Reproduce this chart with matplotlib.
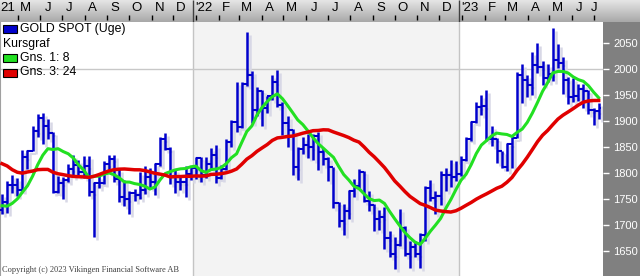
#!/usr/bin/env python3
"""Weekly gold spot bar chart with 8 and 24 week moving averages."""

import numpy as np
import matplotlib
matplotlib.use("Agg")
from matplotlib import pyplot as plt
from matplotlib import transforms
from matplotlib.colors import LinearSegmentedColormap
from matplotlib.patches import Rectangle

# weekly bars, first week ends 2021-04-09, last 2023-07-07
first_week = "2021-04-09"

opens = [
    1728, 1744, 1777, 1777, 1768, 1831, 1843, 1881, 1905, 1891,
    1877, 1764, 1781, 1787, 1808, 1815, 1802, 1814, 1763, 1780,
    1781, 1818, 1827, 1788, 1754, 1750, 1761, 1757, 1767, 1793,
    1783, 1818, 1865, 1846, 1792, 1783, 1783, 1798, 1809, 1829,
    1797, 1818, 1835, 1791, 1807, 1859, 1898, 1889, 1970, 1988,
    1921, 1958, 1925, 1947, 1975, 1931, 1896, 1883, 1811, 1846,
    1853, 1850, 1871, 1840, 1827, 1811, 1742, 1708, 1727, 1766,
    1775, 1802, 1747, 1738, 1712, 1716, 1675, 1644, 1661, 1695,
    1644, 1657, 1644, 1681, 1771, 1751, 1755, 1797, 1797, 1793,
    1798, 1824, 1865, 1898, 1926, 1928, 1865, 1865, 1842, 1811,
    1856, 1868, 1989, 1978, 1969, 2008, 2004, 1983, 1990, 2017,
    2011, 1978, 1946, 1948, 1961, 1958, 1921, 1919,
]
highs = [
    1759, 1785, 1797, 1790, 1845, 1845, 1890, 1913, 1916, 1903,
    1879, 1795, 1792, 1818, 1834, 1825, 1833, 1832, 1782, 1795,
    1823, 1834, 1834, 1808, 1787, 1765, 1770, 1801, 1814, 1810,
    1819, 1869, 1877, 1849, 1808, 1793, 1814, 1814, 1831, 1831,
    1830, 1848, 1853, 1815, 1865, 1902, 1974, 1974, 2070, 1996,
    1966, 1960, 1948, 1988, 1998, 1936, 1910, 1884, 1849, 1870,
    1874, 1875, 1879, 1847, 1830, 1812, 1745, 1740, 1767, 1788,
    1807, 1804, 1765, 1740, 1729, 1735, 1688, 1676, 1730, 1698,
    1669, 1670, 1684, 1774, 1787, 1765, 1804, 1810, 1824, 1823,
    1833, 1869, 1900, 1937, 1949, 1960, 1890, 1868, 1843, 1858,
    1870, 1993, 2009, 1988, 2032, 2049, 2015, 2009, 2079, 2048,
    2022, 1985, 1983, 1971, 1970, 1960, 1925, 1935,
]
lows = [
    1721, 1723, 1761, 1756, 1766, 1808, 1842, 1870, 1855, 1866,
    1761, 1762, 1750, 1782, 1793, 1794, 1790, 1756, 1677, 1772,
    1779, 1800, 1782, 1745, 1737, 1721, 1746, 1750, 1760, 1772,
    1758, 1814, 1845, 1778, 1762, 1767, 1753, 1787, 1789, 1782,
    1790, 1805, 1780, 1788, 1805, 1850, 1878, 1886, 1967, 1895,
    1910, 1890, 1915, 1940, 1927, 1872, 1850, 1797, 1787, 1836,
    1828, 1825, 1805, 1816, 1785, 1732, 1697, 1681, 1711, 1754,
    1772, 1744, 1727, 1688, 1691, 1654, 1639, 1615, 1659, 1641,
    1617, 1638, 1617, 1670, 1746, 1721, 1739, 1766, 1773, 1785,
    1795, 1822, 1861, 1896, 1911, 1861, 1852, 1819, 1809, 1804,
    1809, 1867, 1934, 1945, 1950, 1992, 1969, 1974, 1977, 2002,
    1952, 1932, 1937, 1939, 1925, 1913, 1893, 1903,
]
closes = [
    1744, 1777, 1777, 1768, 1831, 1843, 1881, 1905, 1891, 1877,
    1764, 1781, 1787, 1808, 1815, 1802, 1814, 1763, 1780, 1781,
    1818, 1827, 1788, 1754, 1750, 1761, 1757, 1767, 1793, 1783,
    1818, 1865, 1846, 1792, 1783, 1783, 1798, 1809, 1829, 1797,
    1818, 1835, 1791, 1807, 1859, 1898, 1889, 1970, 1988, 1921,
    1958, 1925, 1947, 1975, 1931, 1896, 1883, 1811, 1846, 1853,
    1850, 1871, 1840, 1827, 1811, 1742, 1708, 1727, 1766, 1775,
    1802, 1747, 1738, 1712, 1716, 1675, 1644, 1661, 1695, 1644,
    1657, 1644, 1681, 1771, 1751, 1755, 1797, 1797, 1793, 1798,
    1824, 1865, 1898, 1926, 1928, 1865, 1865, 1842, 1811, 1856,
    1868, 1989, 1978, 1969, 2008, 2004, 1983, 1990, 2017, 2011,
    1978, 1946, 1948, 1961, 1958, 1921, 1919, 1925,
]
# Gns. 1: 8
ma8 = [
    1737.0, 1736.1, 1741.5, 1750.0, 1763.0, 1775.3, 1793.8, 1815.8, 1834.1, 1846.6,
    1845.0, 1846.6, 1841.1, 1836.8, 1828.5, 1815.6, 1806.0, 1791.8, 1793.8, 1793.8,
    1797.6, 1800.0, 1796.6, 1790.6, 1782.6, 1782.4, 1779.5, 1777.8, 1774.6, 1769.1,
    1772.9, 1786.8, 1798.8, 1802.6, 1805.9, 1807.9, 1808.5, 1811.8, 1813.1, 1804.6,
    1801.1, 1806.5, 1807.5, 1810.5, 1818.1, 1829.3, 1836.8, 1858.4, 1879.6, 1890.4,
    1911.3, 1926.0, 1937.0, 1946.6, 1951.9, 1942.6, 1929.5, 1915.8, 1901.8, 1892.8,
    1880.6, 1867.6, 1856.3, 1847.6, 1838.6, 1830.0, 1812.8, 1797.0, 1786.5, 1774.5,
    1769.8, 1759.8, 1750.6, 1746.9, 1747.9, 1741.4, 1726.1, 1711.9, 1698.5, 1685.6,
    1675.5, 1667.0, 1662.6, 1674.6, 1688.0, 1699.8, 1712.5, 1731.6, 1748.6, 1767.9,
    1785.8, 1797.5, 1815.9, 1837.3, 1853.6, 1862.1, 1871.1, 1876.6, 1875.0, 1873.9,
    1870.1, 1878.0, 1884.3, 1897.3, 1915.1, 1935.4, 1956.9, 1973.6, 1992.3, 1995.0,
    1995.0, 1992.1, 1984.6, 1979.3, 1976.1, 1967.5, 1955.3, 1944.5,
]
# Gns. 3: 24
ma24 = [
    1817.8, 1813.5, 1806.3, 1801.3, 1799.6, 1801.9, 1803.6, 1806.3, 1806.8, 1806.8,
    1801.3, 1798.4, 1796.7, 1794.7, 1793.3, 1792.8, 1792.4, 1791.5, 1793.4, 1796.8,
    1800.6, 1804.0, 1806.3, 1807.3, 1807.6, 1806.9, 1806.1, 1806.0, 1804.5, 1802.0,
    1799.3, 1797.7, 1795.8, 1792.3, 1793.0, 1793.1, 1793.6, 1793.6, 1794.2, 1794.0,
    1794.2, 1797.2, 1797.6, 1798.7, 1800.4, 1803.4, 1807.6, 1816.6, 1826.5, 1833.2,
    1841.5, 1848.1, 1854.5, 1862.5, 1867.3, 1868.5, 1870.1, 1870.9, 1873.5, 1876.4,
    1878.6, 1881.2, 1881.6, 1882.9, 1882.6, 1878.7, 1875.3, 1871.9, 1868.0, 1862.9,
    1859.3, 1850.0, 1839.6, 1830.9, 1820.8, 1810.4, 1797.8, 1784.7, 1774.8, 1764.3,
    1754.9, 1748.0, 1741.1, 1737.7, 1733.5, 1728.7, 1726.9, 1725.7, 1724.9, 1727.3,
    1732.1, 1737.8, 1743.3, 1749.6, 1754.9, 1759.8, 1765.1, 1770.5, 1774.5, 1782.0,
    1791.3, 1805.0, 1816.8, 1830.3, 1845.0, 1860.0, 1872.5, 1881.7, 1892.8, 1903.4,
    1911.0, 1917.2, 1923.6, 1930.4, 1936.0, 1938.3, 1939.2, 1939.2,
]

month_labels = ["21", "M", "J", "J", "A", "S", "O", "N", "D",
                "'22", "F", "M", "A", "M", "J", "J", "A", "S", "O", "N", "D",
                "'23", "F", "M", "A", "M", "J", "J"]
year_starts = ["2022-01-01", "2023-01-01"]
price_ticks = [1650, 1700, 1750, 1800, 1850, 1900, 1950, 2000, 2050]

legend_entries = [("GOLD SPOT (Uge)", "#0000cc"), ("Kursgraf", None),
                  ("Gns. 1: 8", "#22e022"), ("Gns. 3: 24", "#e00000")]

BLUE = "#0000cc"
GREEN = "#22e022"
RED = "#e00000"
FONT = "Liberation Sans"


def week_pos(day):
    # bar positions are week numbers counted from the first bar
    days = (np.datetime64(day, "D") - np.datetime64(first_week)).astype(int)
    return days / 7 - 0.6


def fx(x):
    return x / 640


def fy(y):
    return 1 - y / 276


fig = plt.figure(figsize=(6.4, 2.76), dpi=100)
fig.patch.set_facecolor("white")

xmin = -0.39
xmax = xmin + 603 / 5.1

ax = fig.add_axes([0, 0, 603 / 640, 254 / 276])
ax.set_facecolor("white")

y0, y1 = week_pos(year_starts[0]), week_pos(year_starts[1])
ax.axvspan(y0, y1, color="#f3f3f3", lw=0, zorder=0)
ax.axvline(y0, color="#c4c4c4", lw=1, zorder=1)
ax.axvline(y1, color="#c4c4c4", lw=1, zorder=1)
ax.axhline(2000, color="#c8c8c8", lw=1, zorder=1)

idx = np.arange(len(closes))
shadow = transforms.offset_copy(ax.transData, fig=fig, x=3, y=-3, units="dots")
for tr, col, z in [(shadow, "#d8d8e6", 2), (ax.transData, BLUE, 3)]:
    ax.vlines(idx, lows, highs, color=col, lw=1.8, transform=tr, zorder=z)
    ax.hlines(opens, idx - 0.5, idx, color=col, lw=1.5, transform=tr, zorder=z)
    ax.hlines(closes, idx, idx + 0.5, color=col, lw=1.5, transform=tr, zorder=z)

ax.plot(idx, ma8, color=GREEN, lw=2.2, zorder=4)
ax.plot(idx, ma24, color=RED, lw=2.5, zorder=5)

ax.set_xlim(xmin, xmax)
ax.set_ylim(1602, 2090)
ax.set_xticks([])
ax.yaxis.tick_right()
ax.set_yticks(price_ticks, labels=[str(v) for v in price_ticks], fontfamily=FONT)
ax.tick_params(axis="y", direction="out", length=4, width=1, color="white",
               labelcolor="white", labelsize=8, pad=3.5)
for side in ["top", "right", "bottom"]:
    ax.spines[side].set_visible(False)
ax.spines["left"].set_color("#a0a0a0")

# dark panel behind the price scale
fig.add_artist(Rectangle((fx(603), 0), fx(37), 254 / 276, transform=fig.transFigure,
                         facecolor="#808080", edgecolor="none", zorder=-1))

# month strip on top
strip = fig.add_axes([0, 254 / 276, 1, 22 / 276])
cmap = LinearSegmentedColormap.from_list("strip", ["#a8a8a8", "#e6e6e6"])
strip.imshow(np.linspace(0, 1, 64).reshape(-1, 1), cmap=cmap, aspect="auto",
             origin="lower", extent=(0, 1, 0, 1), transform=strip.transAxes)
strip.set_xlim(xmin, xmin + 640 / 5.1)
strip.set_ylim(0, 1)
strip.axis("off")

months = np.arange(np.datetime64("2021-04"), np.datetime64("2023-08"),
                   dtype="datetime64[M]")
tick_x = [week_pos(m.astype("datetime64[D]")) + 0.5 for m in months]
strip.vlines([t for t in tick_x if xmin < t < xmax], 0.09, 0.32, color="black", lw=1)
strip.vlines([y0, y1], 0, 1, color="#404040", lw=1)
for k, (m, lab) in enumerate(zip(months, month_labels)):
    x = week_pos(m.astype("datetime64[D]") + 14)
    x = min(x, xmax - 1.8)
    if k == 0:
        # first label is cut at the left edge, only the year digits show
        strip.text(xmin, 0.64, lab, ha="left", va="center", fontsize=9.5,
                   family=FONT)
    else:
        strip.text(x, 0.64, lab, ha="center", va="center", fontsize=9.5,
                   family=FONT)

# legend block
for k, (name, col) in enumerate(legend_entries):
    yc = 29 + 14.5 * k
    if col is not None:
        fig.add_artist(Rectangle((fx(3), fy(yc + 4)), fx(14), 8 / 276,
                                 transform=fig.transFigure, facecolor=col,
                                 edgecolor="black", lw=0.8, zorder=6))
        fig.text(fx(20), fy(yc), name, va="center", fontsize=8.8, family=FONT)
    else:
        fig.text(fx(3), fy(yc), name, va="center", fontsize=8.8, family=FONT)

fig.text(fx(2), fy(270), "Copyright (c) 2023 Vikingen Financial Software AB",
         va="center", fontsize=6, family="Liberation Serif", color="#404040")

fig.savefig("out.png", dpi=100)
